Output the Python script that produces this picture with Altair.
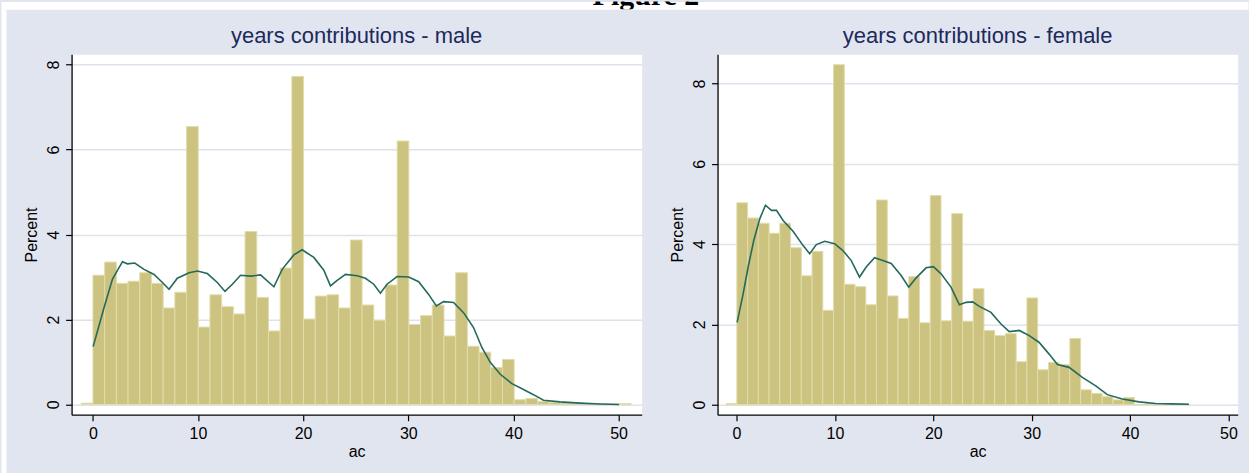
import altair as alt
import pandas as pd

# ---------------- data: years of contributions (ac), percent per bin ----------------
male_bin_start = -1.1
male_bin_width = 1.1128
male_pct = [0.03, 3.04, 3.35, 2.85, 2.90, 3.10, 2.85, 2.27, 2.64, 6.54,
            1.82, 2.58, 2.30, 2.13, 4.07, 2.52, 1.73, 3.21, 7.72, 2.01,
            2.55, 2.58, 2.27, 3.87, 2.34, 1.98, 2.81, 6.20, 1.88, 2.09,
            2.34, 1.61, 3.10, 1.37, 1.23, 0.87, 1.06, 0.11, 0.14, 0.07,
            0.05, 0.04, 0.03, 0.02, 0.015, 0.01, 0.02]

female_bin_start = -1.06
female_bin_width = 1.092
female_pct = [0.03, 5.03, 4.65, 4.52, 4.27, 4.52, 3.91, 3.21, 3.82, 2.35,
              8.47, 3.00, 2.94, 2.49, 5.10, 2.71, 2.15, 3.19, 2.04, 5.21,
              2.09, 4.76, 2.08, 2.89, 1.85, 1.72, 1.77, 1.07, 2.66, 0.87,
              1.05, 1.00, 1.65, 0.37, 0.28, 0.20, 0.12, 0.18, 0.0, 0.03,
              0.02, 0.02, 0.02]

# smoothed density overlay (in percent units)
male_curve_x = [0.03, 1.07, 1.87, 2.82, 3.29, 3.99, 4.87, 5.82, 6.62, 7.25,
                8.04, 9.15, 9.94, 10.89, 11.84, 12.57, 13.27, 14.05, 15.0, 15.95,
                17.22, 18.01, 19.12, 19.91, 21.02, 21.97, 22.6, 23.24, 24.03, 25.14,
                25.93, 26.72, 27.35, 27.98, 28.94, 30.04, 30.99, 31.94, 32.67, 33.36,
                34.31, 35.26, 36.21, 37.0, 37.8, 38.75, 39.86, 40.96, 41.91, 42.86,
                44.44, 46.34, 48.24, 50.05]
male_curve_y = [1.36, 2.28, 2.95, 3.36, 3.31, 3.33, 3.18, 3.06, 2.87, 2.71,
                2.97, 3.10, 3.14, 3.08, 2.87, 2.66, 2.83, 3.04, 3.02, 3.05,
                2.77, 3.18, 3.52, 3.64, 3.46, 3.16, 2.79, 2.92, 3.06, 3.03,
                2.97, 2.83, 2.62, 2.83, 3.01, 3.00, 2.89, 2.59, 2.32, 2.42,
                2.40, 2.16, 1.81, 1.34, 0.99, 0.71, 0.49, 0.35, 0.23, 0.10,
                0.06, 0.03, 0.01, 0.0]

female_curve_x = [0.06, 0.67, 1.18, 1.75, 2.36, 2.94, 3.55, 4.06, 4.73, 5.74,
                  6.75, 7.43, 8.11, 8.96, 9.97, 10.81, 11.66, 12.5, 13.18, 14.03,
                  14.87, 15.72, 16.73, 17.5, 18.26, 19.27, 20.01, 20.79, 21.8, 22.65,
                  23.33, 24.0, 24.68, 25.86, 26.88, 27.72, 28.73, 29.75, 30.76, 31.77,
                  32.62, 33.8, 35.15, 36.51, 37.69, 39.21, 40.9, 42.6, 44.28, 45.98]
female_curve_y = [2.05, 2.76, 3.43, 4.09, 4.63, 4.97, 4.84, 4.84, 4.59, 4.32,
                  3.97, 3.76, 3.99, 4.07, 4.01, 3.84, 3.59, 3.18, 3.43, 3.66,
                  3.59, 3.52, 3.22, 2.93, 3.16, 3.41, 3.44, 3.26, 2.93, 2.49,
                  2.55, 2.56, 2.45, 2.30, 2.01, 1.82, 1.85, 1.72, 1.55, 1.26,
                  1.00, 0.93, 0.68, 0.47, 0.25, 0.14, 0.07, 0.03, 0.02, 0.01]

x_ticks = [0, 10, 20, 30, 40, 50]
y_ticks = [0, 2, 4, 6, 8]

# ---------------- styling ----------------
BG = "#e1e5ef"
BAR_FILL = "#cbc37f"
BAR_EDGE = "#e2dcaa"
LINE = "#25695c"
GRID = "#dde2ec"
TITLE_COLOR = "#1c2a5c"
SANS = "Liberation Sans"


def bins_frame(start, width, pct):
    lo = [start + i * width for i in range(len(pct))]
    return pd.DataFrame({"lo": lo, "hi": [v + width for v in lo],
                         "pct": pct, "base": [0.0] * len(pct)})


def panel(title, bars, cx, cy, xdom, ydom, w, h):
    xs = alt.Scale(domain=xdom, nice=False, zero=False)
    ys = alt.Scale(domain=ydom, nice=False, zero=False)
    xax = alt.Axis(values=x_ticks, title="ac", grid=False, format="d",
                   labelFont=SANS, labelFontSize=16, labelColor="black",
                   titleFont=SANS, titleFontSize=16, titleFontWeight="normal",
                   titleColor="black", titlePadding=2,
                   tickSize=6, tickColor="black", tickWidth=1.2,
                   domainColor="black", domainWidth=1.3, labelPadding=5)
    yax = alt.Axis(values=y_ticks, title="Percent", grid=True, format="d",
                   gridColor=GRID, gridWidth=1.5,
                   labelFont=SANS, labelFontSize=16, labelColor="black",
                   labelAngle=270, labelAlign="center", labelBaseline="bottom",
                   titleFont=SANS, titleFontSize=16, titleFontWeight="normal",
                   titleColor="black", titlePadding=6,
                   tickSize=6, tickColor="black", tickWidth=1.2,
                   domainColor="black", domainWidth=1.3, labelPadding=4)
    hist = alt.Chart(bars).mark_rect(
        fill=BAR_FILL, stroke=BAR_EDGE, strokeWidth=1
    ).encode(
        x=alt.X("lo:Q", scale=xs, axis=xax),
        x2="hi:Q",
        y=alt.Y("pct:Q", scale=ys, axis=yax),
        y2="base:Q",
    )
    curve = alt.Chart(pd.DataFrame({"x": cx, "y": cy})).mark_line(
        color=LINE, strokeWidth=1.6
    ).encode(
        x=alt.X("x:Q", scale=xs, axis=xax),
        y=alt.Y("y:Q", scale=ys, axis=yax),
    )
    return alt.layer(hist, curve).properties(
        width=w, height=h,
        title=alt.TitleParams(title, font=SANS, fontSize=22, fontWeight="normal",
                              color=TITLE_COLOR, anchor="middle", offset=6),
        view=alt.ViewBackground(fill="white", stroke="transparent"),
    )


male = panel("years contributions - male",
             bins_frame(male_bin_start, male_bin_width, male_pct),
             male_curve_x, male_curve_y,
             [-2.02, 52.2], [-0.242, 8.242], 571, 361)
female = panel("years contributions - female",
               bins_frame(female_bin_start, female_bin_width, female_pct),
               female_curve_x, female_curve_y,
               [-1.93, 50.94], [-0.25, 8.73], 521, 361)

one = pd.DataFrame({"v": [0]})

# page heading strip across the top
heading = alt.Chart(one).mark_text(
    text="Figure 2", font="Liberation Serif", fontWeight="bold", fontSize=30,
    align="center", baseline="alphabetic", clip=True, color="black"
).encode(x=alt.value(646), y=alt.value(4)).properties(
    width=1249, height=8,
    view=alt.ViewBackground(fill="white", stroke="transparent"),
)

# thin white margin on the left edge
margin = alt.Chart(one).mark_text(text="").encode(
    x=alt.value(0), y=alt.value(0)
).properties(width=5, height=465,
             view=alt.ViewBackground(fill="white", stroke="transparent"))

# empty gap above the panels
gap = alt.Chart(one).mark_text(text="").encode(
    x=alt.value(0), y=alt.value(0)
).properties(width=1, height=45,
             view=alt.ViewBackground(stroke="transparent"))

panels = alt.hconcat(male, female, spacing=76, bounds="flush")
body = alt.vconcat(gap, panels, spacing=0, bounds="flush")
row = alt.hconcat(margin, body, spacing=65.7, bounds="flush")
chart = alt.vconcat(heading, row, spacing=0, bounds="flush").configure(
    background=BG, padding=0
).configure_view(stroke="transparent")

chart.save("out.html", embed_options={"renderer": "svg", "actions": False})
